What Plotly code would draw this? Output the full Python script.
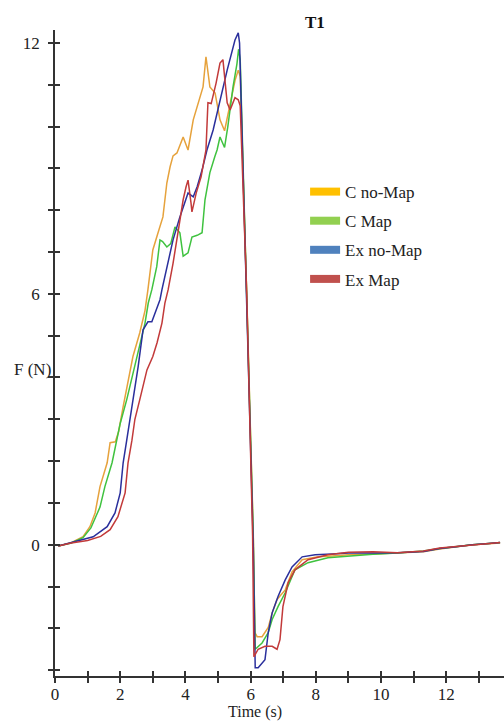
import plotly.graph_objects as go

# Force curves F(t) for trial T1, four conditions
t_c_nomap = [0.1, 0.5, 0.86, 1.07, 1.23, 1.38, 1.6, 1.69, 1.85, 1.95, 2.09, 2.25, 2.39, 2.6, 2.76,
             2.85, 3.0, 3.16, 3.31, 3.43, 3.53, 3.62, 3.74, 3.93, 4.08, 4.24, 4.39, 4.54, 4.63, 4.75,
             4.91, 5.06, 5.2, 5.37, 5.52, 5.62, 5.68, 5.88, 6.08, 6.13, 6.2, 6.35, 6.54, 6.66, 6.81,
             7.06, 7.27, 7.58, 8.07, 8.5, 9.0, 9.75, 10.5, 11.3, 11.8, 12.3, 12.8, 13.3, 13.65]
f_c_nomap = [-0.03, 0.05, 0.19, 0.43, 0.76, 1.39, 1.96, 2.44, 2.46, 2.7, 3.3, 3.9, 4.5, 5.07, 5.6,
             6.1, 7.05, 7.46, 7.84, 8.65, 9.04, 9.3, 9.37, 9.75, 9.44, 10.16, 10.57, 10.95, 11.67, 10.95,
             10.8, 10.16, 9.9, 10.57, 11.1, 11.35, 11.2, 6.0, 0.3, -2.1, -2.2, -2.2, -1.98, -1.63, -1.31,
             -1.08, -0.65, -0.36, -0.29, -0.27, -0.24, -0.22, -0.2, -0.17, -0.1, -0.05, 0.0, 0.02, 0.04]

t_c_map = [0.1, 0.5, 0.86, 1.1, 1.38, 1.53, 1.75, 1.9, 2.0, 2.2, 2.4, 2.6, 2.76, 2.86, 2.97, 3.12,
           3.22, 3.3, 3.43, 3.55, 3.68, 3.83, 3.93, 4.08, 4.2, 4.36, 4.51, 4.6, 4.75, 4.9, 4.97, 5.06,
           5.2, 5.3, 5.46, 5.58, 5.63, 5.68, 5.88, 6.08, 6.14, 6.35, 6.54, 6.66, 6.84, 7.06, 7.36,
           7.76, 8.37, 9.0, 9.75, 10.5, 11.3, 11.8, 12.3, 12.8, 13.3, 13.65]
f_c_map = [-0.03, 0.04, 0.17, 0.4, 0.9, 1.39, 1.96, 2.5, 2.9, 3.47, 4.1, 4.73, 5.3, 5.78, 6.1, 6.65,
           7.29, 7.25, 7.12, 7.2, 7.6, 7.46, 6.9, 6.98, 7.36, 7.4, 7.46, 8.25, 8.9, 9.28, 9.44, 9.75,
           9.5, 10.0, 10.95, 11.5, 11.85, 11.6, 6.0, 0.2, -2.5, -2.35, -2.1, -1.79, -1.48, -1.15, -0.6,
           -0.43, -0.31, -0.27, -0.23, -0.2, -0.15, -0.09, -0.04, 0.0, 0.03, 0.05]

t_ex_nomap = [0.1, 0.46, 0.8, 1.17, 1.6, 1.84, 2.0, 2.09, 2.2, 2.3, 2.4, 2.55, 2.7, 2.85, 2.97, 3.07,
              3.22, 3.28, 3.43, 3.62, 3.83, 3.99, 4.08, 4.24, 4.36, 4.51, 4.66, 4.85, 5.06, 5.28, 5.52,
              5.62, 5.66, 5.88, 6.08, 6.14, 6.23, 6.44, 6.54, 6.66, 6.84, 7.06, 7.27, 7.58, 7.98, 8.5,
              9.0, 9.75, 10.5, 11.3, 11.8, 12.3, 12.8, 13.3, 13.65]
f_ex_nomap = [-0.03, 0.05, 0.11, 0.19, 0.43, 0.76, 1.24, 1.96, 2.5, 3.0, 3.47, 4.26, 5.14, 5.33, 5.33,
              5.55, 5.86, 6.1, 6.65, 7.29, 7.84, 8.18, 8.41, 8.32, 8.56, 8.96, 9.44, 9.92, 10.64, 11.35,
              12.07, 12.24, 12.0, 6.0, 0.0, -2.94, -2.94, -2.75, -2.1, -1.63, -1.24, -0.84, -0.53, -0.29,
              -0.24, -0.22, -0.2, -0.2, -0.19, -0.16, -0.09, -0.05, 0.0, 0.03, 0.05]

t_ex_map = [0.1, 0.5, 1.0, 1.4, 1.69, 1.93, 2.15, 2.24, 2.36, 2.45, 2.6, 2.82, 3.0, 3.13, 3.28, 3.37,
            3.47, 3.62, 3.77, 3.93, 4.02, 4.08, 4.17, 4.2, 4.33, 4.48, 4.63, 4.69, 4.79, 4.94, 5.06,
            5.15, 5.28, 5.37, 5.52, 5.62, 5.68, 5.88, 6.06, 6.1, 6.23, 6.44, 6.66, 6.81, 6.9, 6.99,
            7.15, 7.36, 7.76, 8.37, 9.0, 9.75, 10.5, 11.3, 11.8, 12.3, 12.8, 13.3, 13.65]
f_ex_map = [-0.03, 0.04, 0.1, 0.2, 0.36, 0.67, 1.24, 1.96, 2.5, 3.0, 3.47, 4.18, 4.5, 4.83, 5.3, 5.78,
            6.1, 6.73, 7.46, 8.25, 8.56, 8.72, 8.18, 7.96, 8.41, 8.8, 9.44, 10.57, 10.55, 11.04, 11.52,
            11.6, 10.57, 10.4, 10.69, 10.64, 10.5, 6.0, 0.2, -2.68, -2.5, -2.43, -2.43, -2.5, -2.27,
            -1.48, -0.91, -0.6, -0.36, -0.24, -0.18, -0.17, -0.19, -0.15, -0.08, -0.04, 0.0, 0.03, 0.05]

series_names = ["C no-Map", "C Map", "Ex no-Map", "Ex Map"]
line_colors = ["#E6A23C", "#3FC23F", "#2A2F9C", "#C23A3A"]
legend_colors = ["#FFC000", "#92D050", "#4F81BD", "#C0504D"]

SERIF = "Liberation Serif"
TXT = "#222222"

fig = go.Figure()

curves = [(t_c_nomap, f_c_nomap), (t_c_map, f_c_map), (t_ex_nomap, f_ex_nomap), (t_ex_map, f_ex_map)]
for (tt, ff), col in zip(curves, line_colors):
    fig.add_trace(go.Scatter(x=tt, y=ff, mode="lines", line=dict(color=col, width=1.5),
                             showlegend=False, hoverinfo="skip"))

# legend entries drawn as colored blocks
for i, (name, col) in enumerate(zip(series_names, legend_colors)):
    fig.add_trace(go.Scatter(x=[None], y=[None], mode="lines", name=name,
                             line=dict(color=col, width=8), legendgroup=f"g{i}"))

# companion axes carry the inward half of each tick so ticks cross the axis lines
fig.add_trace(go.Scatter(x=[None], y=[None], xaxis="x2", yaxis="y2", showlegend=False,
                         hoverinfo="skip"))

X_RANGE = [0, 13.77]
Y_RANGE = [-3.14, 12.31]
AX_COLOR = "#333333"

xcommon = dict(range=X_RANGE, showgrid=False, zeroline=False, showline=True,
               linecolor=AX_COLOR, linewidth=1.5, tickcolor=AX_COLOR, tickwidth=1.5,
               ticklen=5, tickvals=[0, 2, 4, 6, 8, 10, 12])
ycommon = dict(range=Y_RANGE, showgrid=False, zeroline=False, showline=True,
               linecolor=AX_COLOR, linewidth=1.5, tickcolor=AX_COLOR, tickwidth=1.5,
               ticklen=5, tickvals=[0, 6, 12])

fig.update_layout(
    width=504, height=724,
    margin=dict(l=55, r=0, t=30, b=48),
    paper_bgcolor="white", plot_bgcolor="white",
    font=dict(family=SERIF, size=17, color=TXT),
    xaxis=dict(**xcommon, ticks="outside", ticklabelstandoff=-3,
               minor=dict(dtick=1, tick0=0, ticks="outside", ticklen=5, tickcolor=AX_COLOR,
                          tickwidth=1.5),
               tickfont=dict(family=SERIF, size=17, color=TXT)),
    yaxis=dict(**ycommon, ticks="outside", ticklabelstandoff=5,
               minor=dict(dtick=1, tick0=0, ticks="outside", ticklen=5, tickcolor=AX_COLOR,
                          tickwidth=1.5),
               tickfont=dict(family=SERIF, size=17, color=TXT)),
    xaxis2=dict(**xcommon, overlaying="x", anchor="y2", ticks="inside", showticklabels=False,
                minor=dict(dtick=1, tick0=0, ticks="inside", ticklen=5, tickcolor=AX_COLOR,
                           tickwidth=1.5)),
    yaxis2=dict(**ycommon, overlaying="y", anchor="x2", ticks="inside", showticklabels=False,
                minor=dict(dtick=1, tick0=0, ticks="inside", ticklen=5, tickcolor=AX_COLOR,
                           tickwidth=1.5)),
    legend=dict(x=0.557, y=0.777, xanchor="left", yanchor="top",
                bgcolor="rgba(0,0,0,0)", borderwidth=0, tracegroupgap=4,
                font=dict(family=SERIF, size=17, color=TXT)),
    annotations=[
        dict(text="<b>T1</b>", x=0.58, y=1.0, xref="paper", yref="paper",
             xanchor="center", yanchor="middle", yshift=8,
             showarrow=False, font=dict(family=SERIF, size=17, color="#111111")),
        dict(text="Time (s)", x=0.445, y=-0.0555, xref="paper", yref="paper",
             xanchor="center", yanchor="middle",
             showarrow=False, font=dict(family=SERIF, size=16, color=TXT)),
        dict(text="F (N)", x=-0.004, y=4.18, xref="paper", yref="y", xanchor="right",
             yanchor="middle",
             showarrow=False, font=dict(family=SERIF, size=17, color=TXT)),
    ],
)

fig.write_html("out.html")
